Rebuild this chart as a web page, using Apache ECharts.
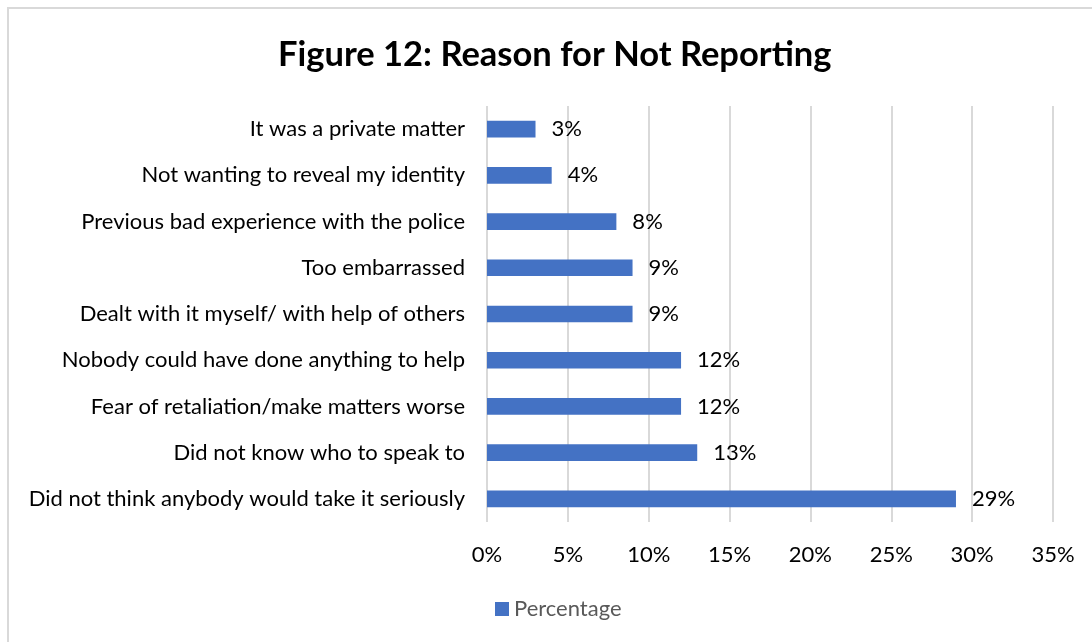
<!DOCTYPE html>
<html><head><meta charset="utf-8">
<script src="https://cdn.jsdelivr.net/npm/echarts@6/dist/echarts.min.js"></script>
<style>
html,body{margin:0;padding:0;background:#fff;}
#wrap{position:absolute;left:0;top:0;width:1092px;height:642px;}
#frame{position:absolute;left:7px;top:7px;width:1200px;height:700px;border-left:2px solid #d9d9d9;border-top:2px solid #d9d9d9;box-sizing:border-box;}
#c{position:absolute;left:0;top:0;width:1092px;height:642px;}
</style></head>
<body><div id="wrap"><div id="frame"></div><div id="c"></div></div>
<script>
const titleText = 'Figure 12: Reason for Not Reporting';
const categories = [
  'Did not think anybody would take it seriously',
  'Did not know who to speak to',
  'Fear of retaliation/make matters worse',
  'Nobody could have done anything to help',
  'Dealt with it myself/ with help of others',
  'Too embarrassed',
  'Previous bad experience with the police',
  'Not wanting to reveal my identity',
  'It was a private matter'
];
const values = [29, 13, 12, 12, 9, 9, 8, 4, 3];
const seriesName = 'Percentage';
const xTicks = {min: 0, max: 35, interval: 5};

const font = 'Lato, "Open Sans", sans-serif';
const chart = echarts.init(document.getElementById('c'), null, {renderer: 'canvas'});
chart.setOption({
  backgroundColor: 'transparent',
  animation: false,
  title: {
    text: titleText, left: 273, top: 32,
    textStyle: {fontFamily: font, fontSize: 34.5, fontWeight: 'bold', color: '#000'}
  },
  legend: {
    data: [seriesName], bottom: 17, left: 490,
    icon: 'rect', itemWidth: 14, itemHeight: 14, itemGap: 7,
    textStyle: {fontFamily: font, fontSize: 22, color: '#595959'}
  },
  grid: {left: 487, right: 39, top: 106, bottom: 120, containLabel: false},
  xAxis: {
    type: 'value', min: xTicks.min, max: xTicks.max, interval: xTicks.interval,
    axisLine: {show: false}, axisTick: {show: false},
    splitLine: {lineStyle: {color: '#d9d9d9', width: 2}},
    axisLabel: {formatter: '{value}%', fontFamily: font, fontSize: 22, color: '#000', margin: 22}
  },
  yAxis: {
    type: 'category', data: categories,
    axisLine: {show: false}, axisTick: {show: false},
    axisLabel: {fontFamily: font, fontSize: 22, color: '#000', margin: 22}
  },
  series: [{
    name: seriesName, type: 'bar', data: values,
    barCategoryGap: '64%',
    itemStyle: {color: '#4472c4'},
    label: {show: true, position: 'right', distance: 16, formatter: '{c}%',
      fontFamily: font, fontSize: 22, color: '#000'}
  }]
});
</script></body></html>
